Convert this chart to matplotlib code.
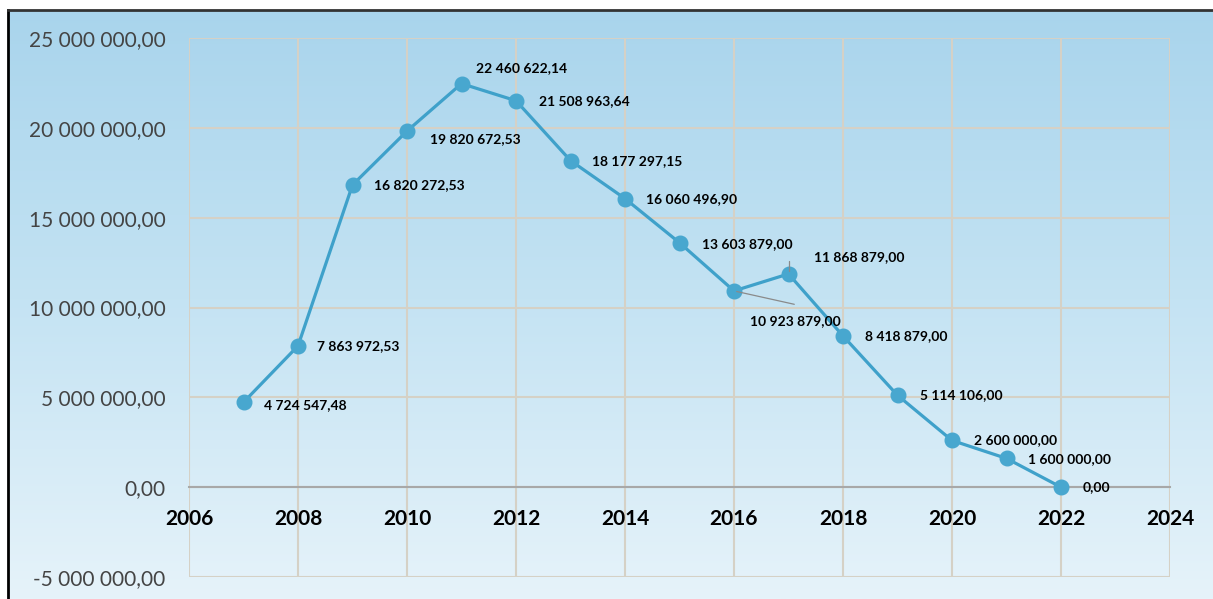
import numpy as np
import matplotlib.pyplot as plt
from matplotlib.colors import LinearSegmentedColormap
from matplotlib.ticker import FuncFormatter

years = [2007, 2008, 2009, 2010, 2011, 2012, 2013, 2014,
         2015, 2016, 2017, 2018, 2019, 2020, 2021, 2022]
values = [4724547.48, 7863972.53, 16820272.53, 19820672.53, 22460622.14,
          21508963.64, 18177297.15, 16060496.90, 13603879.00, 10923879.00,
          11868879.00, 8418879.00, 5114106.00, 2600000.00, 1600000.00, 0.00]
x_ticks = [2006, 2008, 2010, 2012, 2014, 2016, 2018, 2020, 2022, 2024]
y_ticks = [-5000000, 0, 5000000, 10000000, 15000000, 20000000, 25000000]

# label offsets in pixels (dx, dy) relative to each point
offsets = [(20, -3), (19, 0), (22, 0), (23, -8), (15, 16), (23, 0), (22, 0), (21, 0),
           (23, -1), (16, -30), (26, 17), (22, 0), (22, 0), (22, 0), (22, -1), (22, 0)]


def fmt(v, pos=None):
    s = '{:,.2f}'.format(v)
    return s.replace(',', ' ').replace('.', ',')


plt.rcParams['font.family'] = ['Lato', 'DejaVu Sans']

fig = plt.figure(figsize=(12.13, 5.99), dpi=100)
fig.patch.set_facecolor('white')

# gradient background
bg = fig.add_axes([0, 0, 1, 1], zorder=-5)
cmap = LinearSegmentedColormap.from_list('bgc', ['#e6f3fa', '#c4e3f3', '#a8d4ec'])
grad = np.linspace(0, 1, 256).reshape(-1, 1)
bg.imshow(grad, aspect='auto', cmap=cmap, origin='lower', extent=[0, 1, 0, 1])
bg.set_xlim(0, 1)
bg.set_ylim(0, 1)
bg.axis('off')
# frame lines of the scanned box
bg.plot([8 / 1213, 8 / 1213], [0, 1 - 10 / 599], color='black', lw=2)
bg.plot([8 / 1213, 1], [1 - 10 / 599, 1 - 10 / 599], color='#333333', lw=2)
bg.fill_between([0, 1], 1 - 9 / 599, 1, color='white')
bg.fill_between([0, 8 / 1213], 0, 1, color='white')

ax = fig.add_axes([189 / 1213, 22 / 599, (1170 - 189) / 1213, (577 - 38) / 599])
ax.patch.set_alpha(0)
ax.set_xlim(2006, 2024)
ax.set_ylim(-5000000, 25000000)
ax.set_xticks(x_ticks)
ax.set_yticks(y_ticks)
ax.yaxis.set_major_formatter(FuncFormatter(fmt))
ax.grid(True, color='#d5d1c6', lw=1.5)
ax.set_axisbelow(True)
for s in ['top', 'right', 'left']:
    ax.spines[s].set_visible(False)
ax.spines['bottom'].set_position(('data', 0))
ax.spines['bottom'].set_color('#a8a8a8')
ax.spines['bottom'].set_linewidth(1.5)
ax.tick_params(axis='x', length=0, pad=16, labelsize=15, colors='black')
ax.tick_params(axis='y', length=0, pad=17, labelsize=15, labelcolor='#444444')
for lab in ax.get_xticklabels():
    lab.set_fontweight('bold')

ax.plot(years, values, color='#3fa1ca', lw=2.3, marker='o', markersize=10.5,
        markerfacecolor='#48a7cf', markeredgecolor='#48a7cf', zorder=3)

for x, v, (dx, dy) in zip(years, values, offsets):
    ax.annotate(fmt(v), (x, v), xytext=(dx, dy), textcoords='offset pixels',
                ha='left', va='center', fontsize=10, fontweight='bold', color='black',
                zorder=4)

# leader lines for 2016 and 2017 labels
ax.annotate('', (2016, values[9]), xytext=(63, -14), textcoords='offset pixels',
            arrowprops=dict(arrowstyle='-', color='#8a8a8a', lw=0.9))
ax.annotate('', (2017, values[10]), xytext=(1, 16), textcoords='offset pixels',
            arrowprops=dict(arrowstyle='-', color='#8a8a8a', lw=0.9,
                            connectionstyle='angle,angleA=0,angleB=90,rad=0'))

fig.savefig('out.png', dpi=100)
